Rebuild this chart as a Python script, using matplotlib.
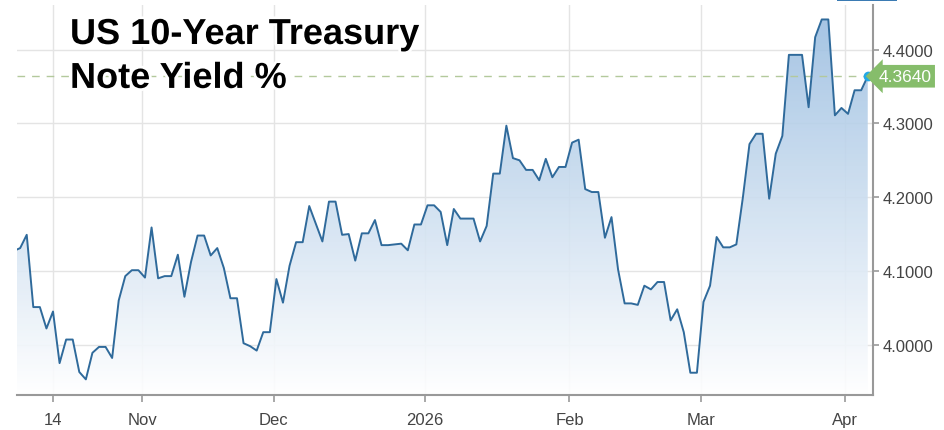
'''
US 10-Year Treasury Note Yield chart
'''

import numpy as np
import pandas as pd
import matplotlib.pyplot as plt
import matplotlib.patheffects as pe

plt.rcParams['font.family'] = ['Liberation Sans', 'DejaVu Sans']

# trading days (weekdays) shown on the chart
dates = pd.bdate_range("2025-10-06", "2026-04-06")

# yield values, one per weekday
yields = [
    4.127, 4.131, 4.149, 4.051, 4.051, 4.022, 4.045, 3.975, 4.007, 4.007,
    3.963, 3.953, 3.989, 3.997, 3.997, 3.982, 4.060, 4.093, 4.101, 4.101,
    4.091, 4.159, 4.090, 4.093, 4.093, 4.122, 4.065, 4.112, 4.148, 4.148,
    4.121, 4.131, 4.104, 4.063, 4.063, 4.002, 3.998, 3.992, 4.017, 4.017,
    4.089, 4.057, 4.107, 4.139, 4.139, 4.188, 4.164, 4.140, 4.194, 4.194,
    4.149, 4.150, 4.114, 4.151, 4.151, 4.169, 4.135, 4.135, 4.136, 4.137,
    4.128, 4.163, 4.163, 4.189, 4.189, 4.180, 4.135, 4.184, 4.171, 4.171,
    4.171, 4.140, 4.161, 4.232, 4.232, 4.297, 4.253, 4.250, 4.237, 4.237,
    4.223, 4.252, 4.227, 4.241, 4.241, 4.274, 4.278, 4.211, 4.207, 4.207,
    4.145, 4.173, 4.102, 4.056, 4.056, 4.054, 4.080, 4.075, 4.085, 4.085,
    4.033, 4.048, 4.017, 3.962, 3.962, 4.058, 4.080, 4.146, 4.132, 4.132,
    4.136, 4.200, 4.272, 4.286, 4.286, 4.198, 4.259, 4.283, 4.393, 4.393,
    4.393, 4.322, 4.417, 4.441, 4.441, 4.311, 4.321, 4.313, 4.345, 4.345,
    4.364,
]

tick_dates = ["2025-10-14", "2025-11-03", "2025-12-01", "2026-01-01",
              "2026-02-02", "2026-03-02", "2026-04-01"]
tick_labels = ["14", "Nov", "Dec", "2026", "Feb", "Mar", "Apr"]
ytick_vals = [4.0, 4.1, 4.2, 4.3, 4.4]

x = np.arange(len(dates))
pos = {d.strftime("%Y-%m-%d"): i for i, d in enumerate(dates)}
last = yields[-1]

fig = plt.figure(figsize=(9.44, 4.31), dpi=100)
ax = fig.add_axes([17 / 944, 35 / 431, 856 / 944, 390 / 431])
ymin, ymax = 3.9318, 4.4606
xmin, xmax = 0.52, 130.8
ax.set_xlim(xmin, xmax)
ax.set_ylim(ymin, ymax)

# grid
ax.set_axisbelow(True)
ax.grid(True, color="#e4e4e4", lw=1)

# gradient fill under the line
fill = ax.fill_between(x, yields, ymin, color="none", lw=0)
top_c = np.array([0.60, 0.74, 0.88])
t = np.linspace(0, 1, 256).reshape(-1, 1, 1)
img = (1 - t) * np.ones(3) + t * top_c
im = ax.imshow(img, extent=[xmin, xmax, ymin, ymax], origin="lower",
               aspect="auto", alpha=0.9, zorder=1)
im.set_clip_path(fill.get_paths()[0], transform=ax.transData)

ax.plot(x, yields, color="#2f6a9b", lw=1.4, zorder=3)

# last value reference line and marker
ax.axhline(last, color="#b3c99c", lw=1, dashes=(5.5, 5), zorder=2)
ax.plot(x[-1], last, "o", color="#22a8e6", ms=6, zorder=5, clip_on=False)
ax.text(1.006, last, "%.4f" % last, transform=ax.get_yaxis_transform(),
        fontsize=12.5, color="white", va="center", ha="left", zorder=6,
        bbox=dict(boxstyle="larrow,pad=0.22", fc="#86bd6b", ec="none"))

# axes styling
for side in ["top", "left"]:
    ax.spines[side].set_visible(False)
for side in ["bottom", "right"]:
    ax.spines[side].set_color("#999999")
    ax.spines[side].set_linewidth(1.5)

ax.yaxis.tick_right()
ax.set_yticks(ytick_vals)
ax.set_yticklabels(["%.4f" % v for v in ytick_vals])
ax.set_xticks([pos[d] - (0 if lab == "14" else 0.4)
               for d, lab in zip(tick_dates, tick_labels)])
ax.set_xticklabels(tick_labels)
ax.tick_params(axis="both", labelsize=12, labelcolor="#444444",
               color="#999999", width=1.2)
ax.tick_params(axis="x", length=5, pad=7.5)
ax.tick_params(axis="y", length=4, pad=3)

# title
ax.text(53 / 856, 1 - 12 / 390, "US 10-Year Treasury\nNote Yield %",
        transform=ax.transAxes, fontsize=26, fontweight="bold",
        color="black", va="top", ha="left", linespacing=1.33, zorder=7,
        path_effects=[pe.withStroke(linewidth=4, foreground="white")])

# partial button outline at the top edge
fig.add_artist(plt.Rectangle((837 / 944, 429 / 431), 60 / 944, 2 / 431,
                             transform=fig.transFigure, fc="#3b7bb3", ec="none"))

fig.savefig("out.png", dpi=100)
